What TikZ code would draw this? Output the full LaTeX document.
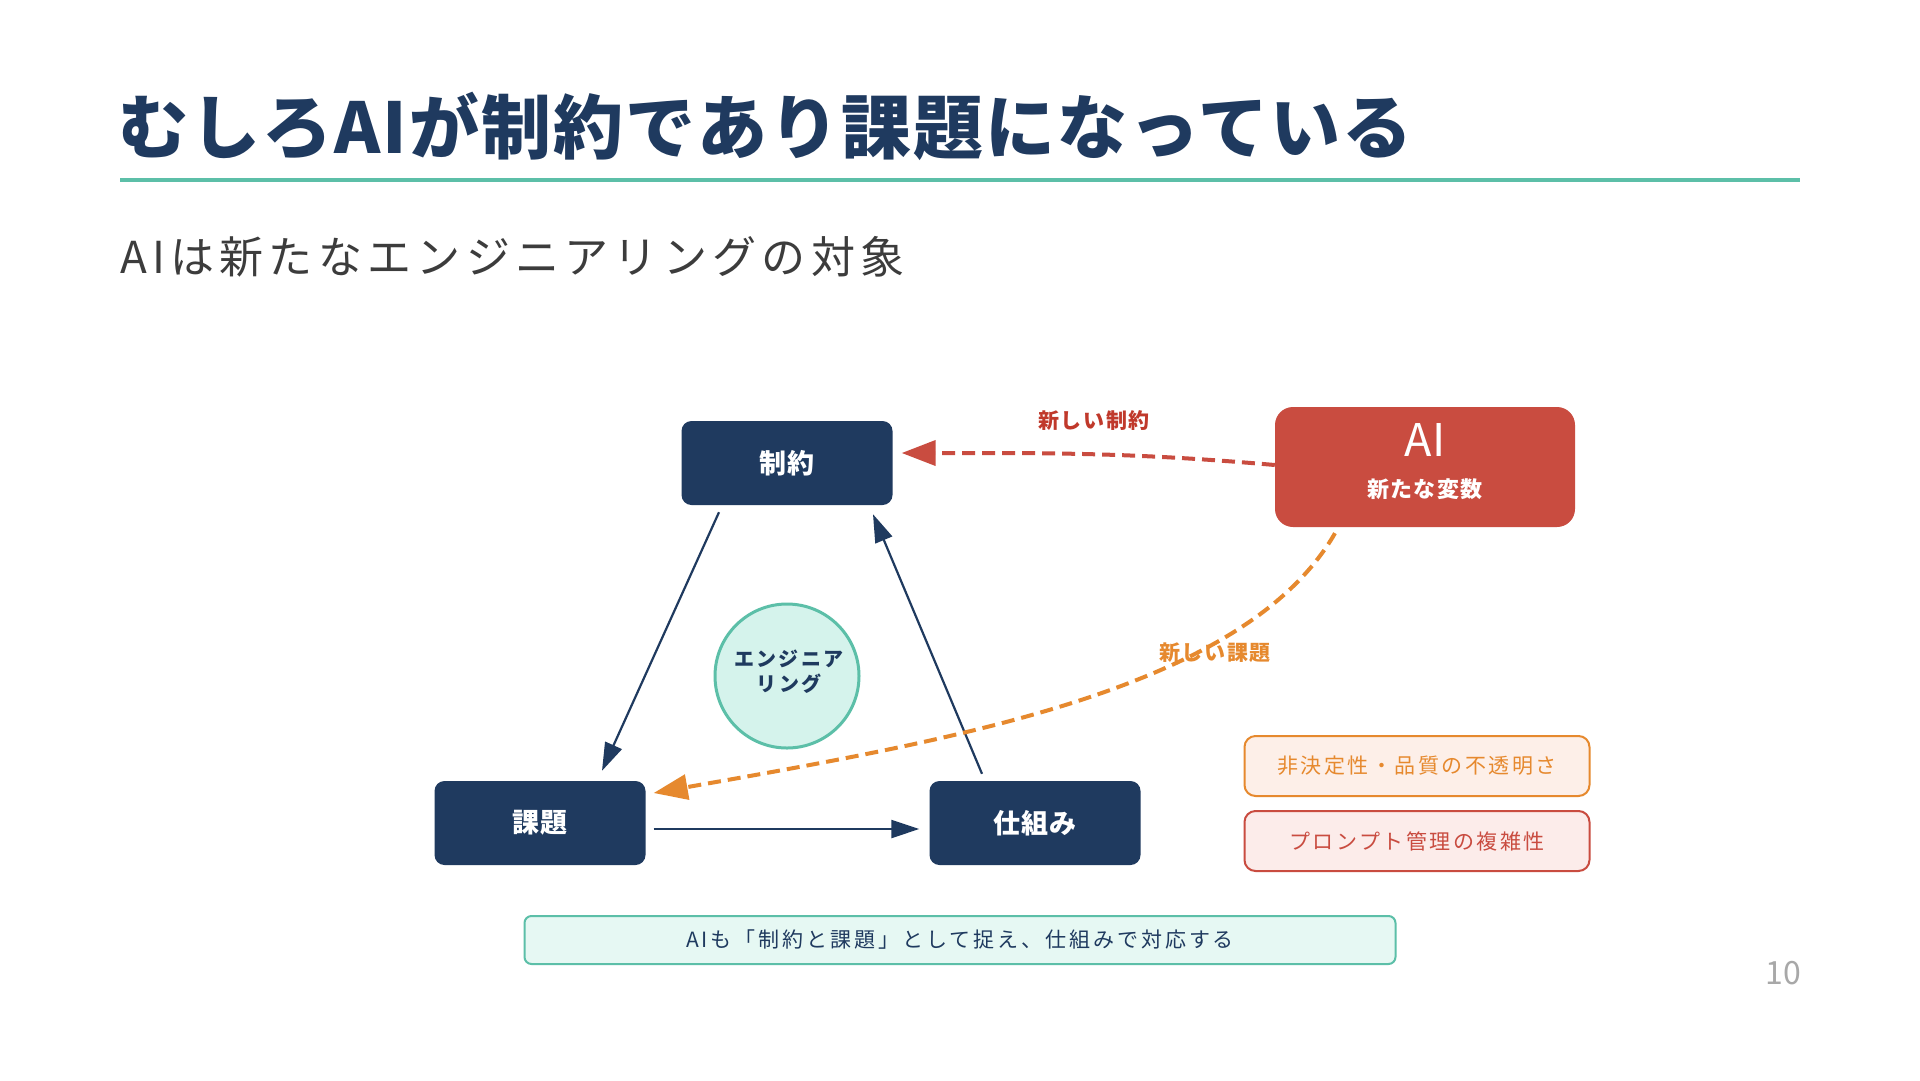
\documentclass[tikz,border=0pt]{standalone}
\usepackage{fontspec}
\setmainfont{Noto Sans CJK JP}
\usetikzlibrary{arrows.meta}
\definecolor{navy}{HTML}{1F3A5F}
\definecolor{mint}{HTML}{5CBFA8}
\definecolor{mintfill}{HTML}{D5F3EC}
\definecolor{mintlight}{HTML}{E6F8F3}
\definecolor{aired}{HTML}{C94C40}
\definecolor{redtext}{HTML}{C0392B}
\definecolor{orangec}{HTML}{E6892E}
\definecolor{peach}{HTML}{FDEFE8}
\definecolor{pinkf}{HTML}{FCECEA}
\definecolor{subgray}{HTML}{3C3C3C}
\definecolor{pagegray}{HTML}{A8A8A8}
\newcommand\setfs[1]{\fontsize{#1}{#1}\selectfont}
\tikzset{
  navybox/.style={fill=navy, rounded corners=10pt, minimum width=211pt, minimum height=84pt,
    inner sep=0pt, text=white, font=\bfseries\setfs{27}\addfontfeatures{LetterSpace=4}},
  navyarrow/.style={draw=navy, line width=2.2pt, -{Triangle[length=28pt,width=18pt]}},
  reddash/.style={draw=aired, line width=4pt, dash pattern=on 13pt off 7pt,
    -{Triangle[length=34pt,width=25pt]}},
  orangedash/.style={draw=orangec, line width=4pt, dash pattern=on 13pt off 7pt,
    -{Triangle[length=34pt,width=25pt]}},
  sidebox/.style={rounded corners=11pt, line width=2pt, minimum width=345pt, minimum height=60pt,
    inner sep=0pt, font=\setfs{21}\addfontfeatures{LetterSpace=12}},
}
\begin{document}
\begin{tikzpicture}[x=1pt,y=-1pt]
\useasboundingbox (0,0) rectangle (1920,1080);
\fill[white] (0,0) rectangle (1920,1080);

% title
\node[anchor=west, inner sep=0pt, text=navy, font=\bfseries\setfs{70}\addfontfeatures{LetterSpace=3}] (title) at (118,126) {むしろAIが制約であり課題になっている};
\draw[mint, line width=4pt] (120,180) -- (1800,180);
\node[anchor=west, inner sep=0pt, text=subgray, font=\setfs{44}\addfontfeatures{LetterSpace=12}] (sub) at (120,257) {AIは新たなエンジニアリングの対象};

% main boxes
\node[navybox] (c) at (787,463) {制約};
\node[navybox] (k) at (540,823) {課題};
\node[navybox] (s) at (1035,823) {仕組み};

% circle
\node[circle, fill=mintfill, draw=mint, line width=3pt, minimum size=144pt, inner sep=0pt] (eng) at (787,676) {};
\node[inner sep=0pt, text=navy, font=\bfseries\setfs{20}\addfontfeatures{LetterSpace=12}, align=center] (engt) at (789,672)
  {エンジニア\\[5pt]リング};

% AI box
\node[fill=aired, rounded corners=18pt, minimum width=300pt, minimum height=120pt, inner sep=0pt] (ai) at (1425,467) {};
\node[inner sep=0pt, text=white, font=\setfs{45}] (ait) at (1425,440) {AI};
\node[inner sep=0pt, text=white, font=\bfseries\setfs{22}\addfontfeatures{LetterSpace=6}] (ais) at (1425,489) {新たな変数};

% triangle arrows
\draw[navyarrow] ([xshift=-68pt,yshift=-7pt]c.south) -- ([xshift=62pt,yshift=10pt]k.north);
\draw[navyarrow] ([xshift=-53pt,yshift=7pt]s.north) -- ([xshift=86pt,yshift=-9pt]c.south);
\draw[navyarrow] ([xshift=8pt,yshift=-6pt]k.east) -- ([xshift=-10pt,yshift=-6pt]s.west);

% AI arrows
\draw[reddash] ([yshift=2pt]ai.west) to[out=175,in=0] ([xshift=9pt,yshift=10pt]c.east);
\node[inner sep=0pt, text=redtext, font=\bfseries\setfs{21}\addfontfeatures{LetterSpace=8}] (lc) at (1094,421) {新しい制約};
\draw[orangedash] ([xshift=-90pt,yshift=-6pt]ai.south) to[out=-120,in=10,out looseness=0.63,in looseness=1.1] ([xshift=8pt,yshift=30pt]k.east);
\node[inner sep=0pt, text=orangec, font=\bfseries\setfs{21}\addfontfeatures{LetterSpace=8}] (lk) at (1215,653) {新しい課題};

% side boxes
\node[sidebox, fill=peach, draw=orangec, text=orangec] (b1) at (1417,766) {非決定性・品質の不透明さ};
\node[sidebox, fill=pinkf, draw=aired, text=aired] (b2) at (1417,841) {プロンプト管理の複雑性};

% bottom
\node[fill=mintlight, draw=mint, line width=2pt, rounded corners=7pt, minimum width=871pt, minimum height=48pt,
  inner sep=0pt, text=navy, font=\setfs{21}\addfontfeatures{LetterSpace=14}] (bot) at (960,940)
  {AIも「制約と課題」として捉え、仕組みで対応する};

\node[inner sep=0pt, text=pagegray, font=\setfs{32}] (pg) at (1783,973) {10};
\end{tikzpicture}
\end{document}
